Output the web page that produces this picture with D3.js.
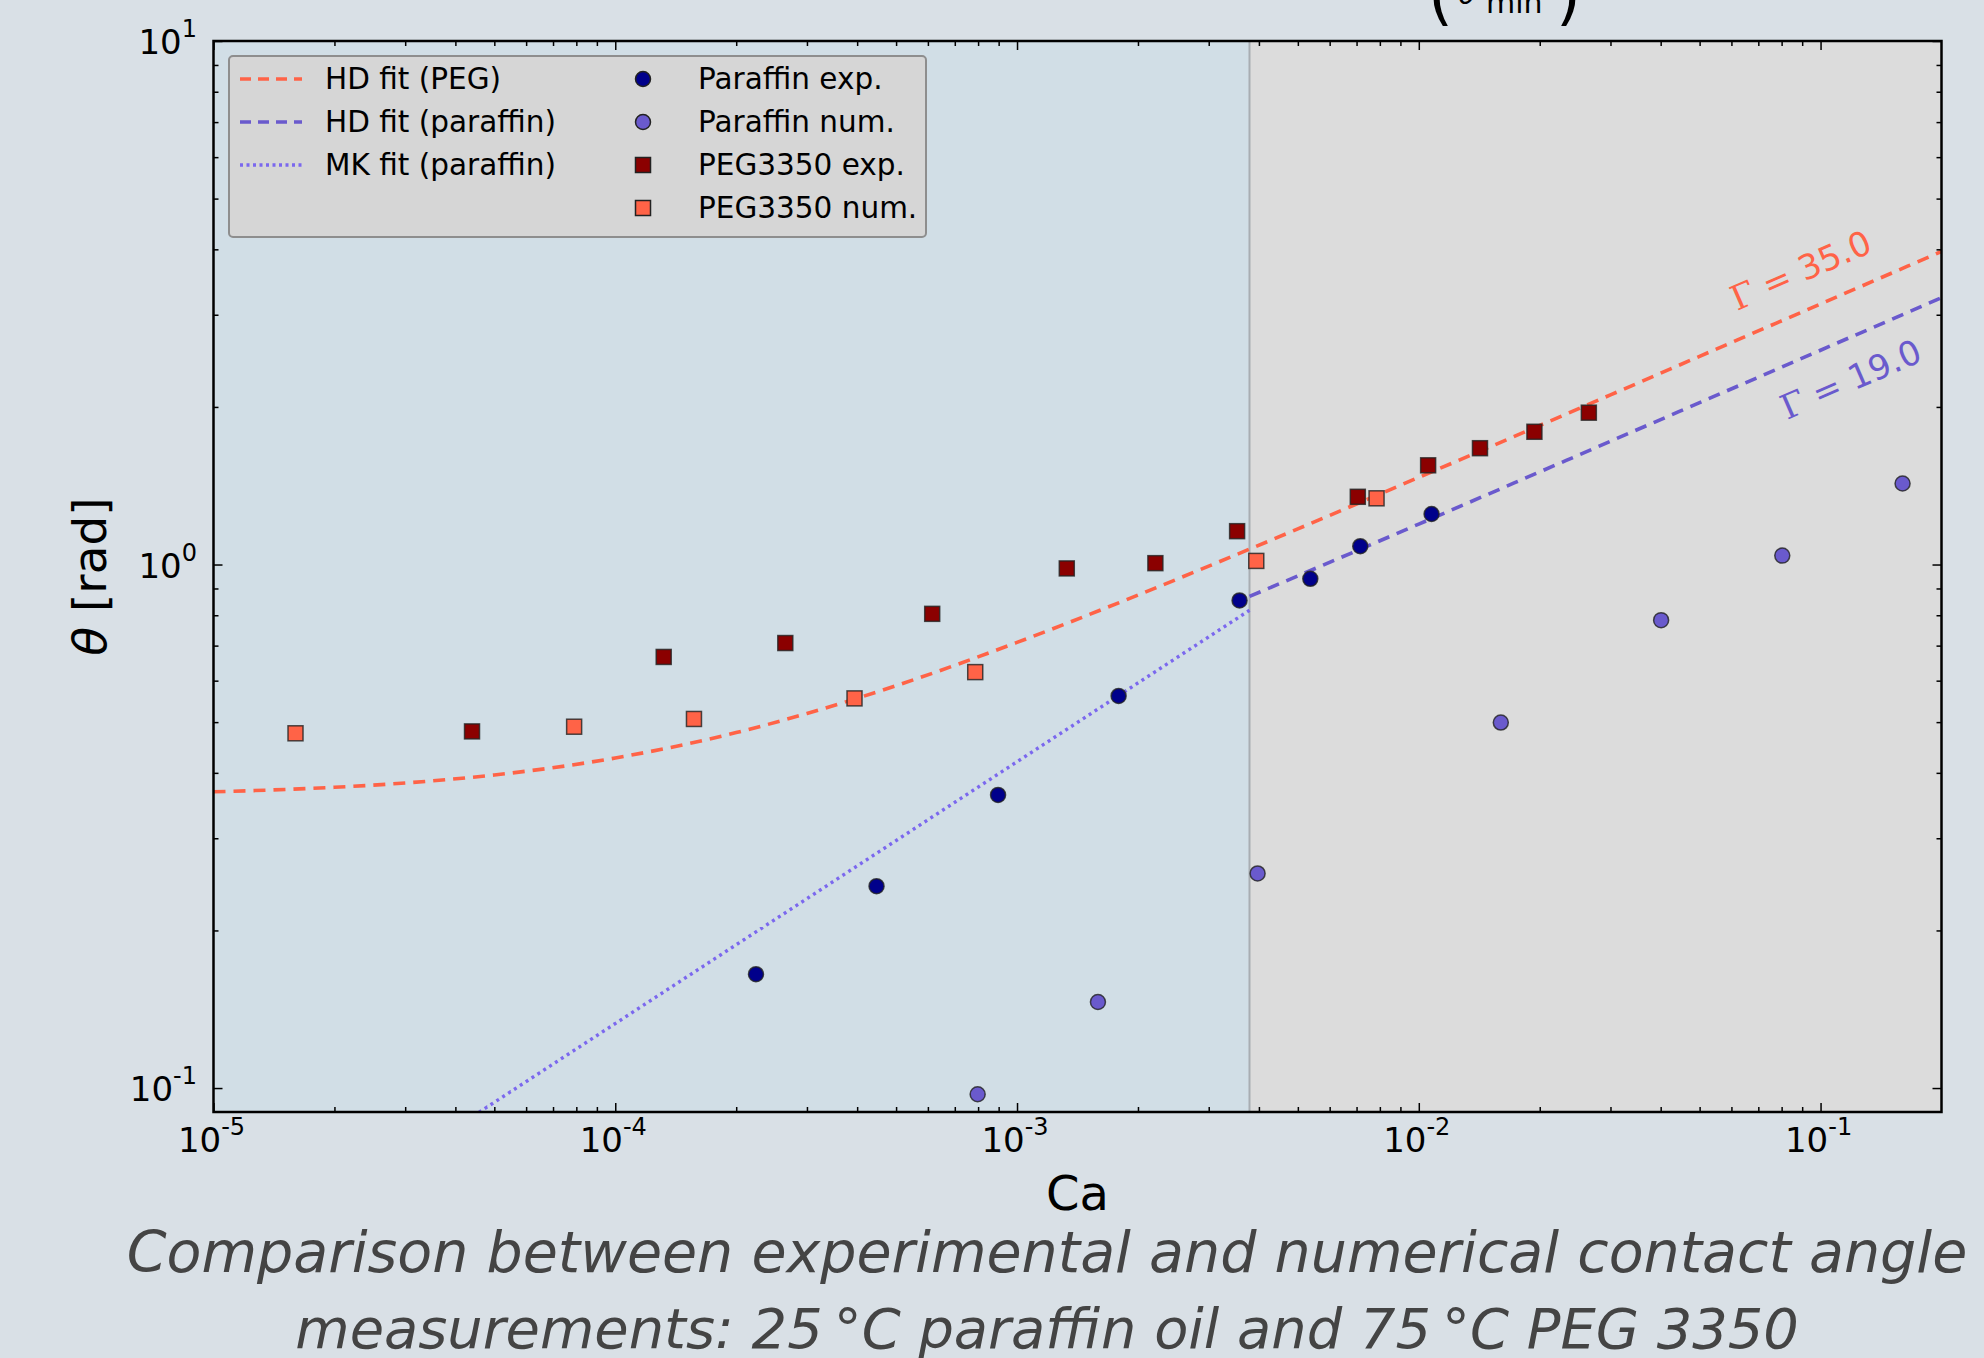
<!DOCTYPE html>
<html>
<head>
<meta charset="utf-8">
<script src="https://cdn.jsdelivr.net/npm/d3@7"></script>
<style>
  body { margin: 0; background: #d9e0e6; }
  svg { display: block; }
  text { font-family: "DejaVu Sans", sans-serif; }
</style>
</head>
<body>
<svg id="chart" width="1984" height="1358"></svg>
<script>
"use strict";

// tick labels
const X_MAJOR = [1e-5, 1e-4, 1e-3, 1e-2, 1e-1];
const X_EXP = ["-5", "-4", "-3", "-2", "-1"];
const Y_MAJOR = [1e-1, 1e0, 1e1];
const Y_EXP = ["-1", "0", "1"];

// measured points (Ca, theta)
const PARAFFIN_EXP_CA = [2.24e-4, 4.47e-4, 8.97e-4, 1.79e-3, 3.58e-3, 5.37e-3, 7.15e-3, 1.076e-2];
const PARAFFIN_EXP_TH = [0.165, 0.243, 0.363, 0.561, 0.854, 0.939, 1.084, 1.249];

const PARAFFIN_NUM_CA = [7.98e-4, 1.59e-3, 3.97e-3, 1.6e-2, 4.01e-2, 8.03e-2, 0.16];
const PARAFFIN_NUM_TH = [0.0973, 0.146, 0.257, 0.499, 0.783, 1.04, 1.428];

const PEG_EXP_CA = [4.4e-5, 1.32e-4, 2.65e-4, 6.15e-4, 1.33e-3, 2.21e-3, 3.53e-3, 7.05e-3, 1.055e-2, 1.42e-2, 1.94e-2, 2.65e-2];
const PEG_EXP_TH = [0.48, 0.666, 0.708, 0.805, 0.983, 1.006, 1.158, 1.347, 1.547, 1.668, 1.793, 1.95];

const PEG_NUM_CA = [1.6e-5, 7.9e-5, 1.57e-4, 3.94e-4, 7.87e-4, 3.94e-3, 7.85e-3];
const PEG_NUM_TH = [0.476, 0.49, 0.507, 0.555, 0.623, 1.016, 1.338];

// fit curves
const HD_PEG_CA = [1e-5, 2e-5, 3e-5, 5e-5, 1e-4, 2e-4, 3e-4, 5e-4, 1e-3, 2e-3, 3e-3, 5e-3, 1e-2, 2e-2, 3e-2, 5e-2, 1e-1, 2e-1];
const HD_PEG_TH = [0.368, 0.3754, 0.3826, 0.3963, 0.427, 0.4775, 0.5193, 0.5869, 0.7099, 0.8743, 0.9931, 1.1697, 1.467, 1.8434, 2.1085, 2.4986, 3.1459, 3.9628];

const HD_PAR_CA = [3.79e-3, 5e-3, 1e-2, 2e-2, 5e-2, 1e-1, 2e-1];
const HD_PAR_TH = [0.869, 0.9512, 1.1946, 1.503, 2.0377, 2.5664, 3.233];

const MK_PAR_CA = [4e-5, 1e-4, 1e-3, 3.79e-3];
const MK_PAR_TH = [0.084, 0.1328, 0.42, 0.8177];

const SPLIT_CA = 3.79e-3;

const CAPTION = [
  "Comparison between experimental and numerical contact angle",
  "measurements: 25\u2009°C paraffin oil and 75\u2009°C PEG 3350"
];
const CAPTION_WIDTH = [1841, 1504];

const LEGEND_LINES = [
  { label: "HD fit (PEG)", color: "#ff6347", dash: "11,7" },
  { label: "HD fit (paraffin)", color: "#6a5acd", dash: "11,7" },
  { label: "MK fit (paraffin)", color: "#7b68ee", dash: "3,3.5" }
];
const LEGEND_MARKS = [
  { label: "Paraffin exp.", color: "#00008b", shape: "circle" },
  { label: "Paraffin num.", color: "#6a5acd", shape: "circle" },
  { label: "PEG3350 exp.", color: "#8b0000", shape: "square" },
  { label: "PEG3350 num.", color: "#ff6347", shape: "square" }
];

const LEFT = 213.5, RIGHT = 1941.5, TOP = 41, BOTTOM = 1112;

const svg = d3.select("#chart");

const x = d3.scaleLog().domain([1e-5, 0.2]).range([LEFT, RIGHT]);
const y = d3.scaleLog().domain([0.09, 10]).range([BOTTOM, TOP]);

const zip = (a, b) => a.map((v, i) => [v, b[i]]);

// cut-off title above the plot
const title = svg.append("g").attr("fill", "#000");
title.append("text").attr("x", 1428).attr("y", 18).attr("font-size", 64).text("(");
title.append("text").attr("x", 1458).attr("y", 4).attr("font-size", 30)
  .attr("font-style", "italic").text("θ");
title.append("text").attr("x", 1486).attr("y", 13).attr("font-size", 30).text("min");
title.append("text").attr("x", 1556).attr("y", 18).attr("font-size", 64).text(")");

// plot background regions
svg.append("defs").append("clipPath").attr("id", "plotClip")
  .append("rect").attr("x", LEFT).attr("y", TOP)
  .attr("width", RIGHT - LEFT).attr("height", BOTTOM - TOP);

const plot = svg.append("g").attr("clip-path", "url(#plotClip)");

plot.append("rect")
  .attr("x", LEFT).attr("y", TOP)
  .attr("width", x(SPLIT_CA) - LEFT).attr("height", BOTTOM - TOP)
  .attr("fill", "#d1dee6");
plot.append("rect")
  .attr("x", x(SPLIT_CA)).attr("y", TOP)
  .attr("width", RIGHT - x(SPLIT_CA)).attr("height", BOTTOM - TOP)
  .attr("fill", "#dcdcdc");
plot.append("line")
  .attr("x1", x(SPLIT_CA)).attr("x2", x(SPLIT_CA))
  .attr("y1", TOP).attr("y2", BOTTOM)
  .attr("stroke", "#a8adb2").attr("stroke-width", 2);

// fit lines
const line = d3.line().x((d) => x(d[0])).y((d) => y(d[1])).curve(d3.curveMonotoneX);

plot.append("path").datum(zip(HD_PEG_CA, HD_PEG_TH))
  .attr("d", line).attr("fill", "none")
  .attr("stroke", "#ff6347").attr("stroke-width", 3.6).attr("stroke-dasharray", "12,8");
plot.append("path").datum(zip(HD_PAR_CA, HD_PAR_TH))
  .attr("d", line).attr("fill", "none")
  .attr("stroke", "#6a5acd").attr("stroke-width", 3.6).attr("stroke-dasharray", "12,8");
plot.append("path").datum(zip(MK_PAR_CA, MK_PAR_TH))
  .attr("d", line).attr("fill", "none")
  .attr("stroke", "#7b68ee").attr("stroke-width", 3.4).attr("stroke-dasharray", "3,4");

// markers
function drawMarkers(ca, th, color, shape) {
  const g = plot.append("g");
  const pts = zip(ca, th);
  if (shape === "circle") {
    g.selectAll("circle").data(pts).enter().append("circle")
      .attr("cx", (d) => x(d[0])).attr("cy", (d) => y(d[1])).attr("r", 7.5)
      .attr("fill", color).attr("stroke", "#222").attr("stroke-opacity", 0.8).attr("stroke-width", 1.5);
  } else {
    g.selectAll("rect").data(pts).enter().append("rect")
      .attr("x", (d) => x(d[0]) - 7.5).attr("y", (d) => y(d[1]) - 7.5)
      .attr("width", 15).attr("height", 15)
      .attr("fill", color).attr("stroke", "#222").attr("stroke-opacity", 0.8).attr("stroke-width", 1.5);
  }
}
drawMarkers(PEG_EXP_CA, PEG_EXP_TH, "#8b0000", "square");
drawMarkers(PEG_NUM_CA, PEG_NUM_TH, "#ff6347", "square");
drawMarkers(PARAFFIN_EXP_CA, PARAFFIN_EXP_TH, "#00008b", "circle");
drawMarkers(PARAFFIN_NUM_CA, PARAFFIN_NUM_TH, "#6a5acd", "circle");

// Gamma annotations
function gammaLabel(px, py, value, color) {
  const t = svg.append("text")
    .attr("transform", `translate(${px},${py}) rotate(-23.5)`)
    .attr("font-size", 34).attr("fill", color);
  t.append("tspan").attr("font-family", "DejaVu Serif, serif").text("Γ");
  t.append("tspan").text(" = " + value);
}
gammaLabel(1737, 311, "35.0", "#ff6347");
gammaLabel(1787, 420, "19.0", "#6a5acd");

// ticks (inward, all four sides)
const xMinor = [];
for (let k = -5; k <= -1; k++) for (let m = 2; m <= 9; m++) {
  const v = m * Math.pow(10, k);
  if (v < 0.2) xMinor.push(v);
}
const yMinor = [];
for (let k = -2; k <= 0; k++) for (let m = 2; m <= 9; m++) {
  const v = m * Math.pow(10, k);
  if (v > 0.09 && v < 10) yMinor.push(v);
}

function addAxis(axis, tx, ty) {
  const g = svg.append("g").attr("transform", `translate(${tx},${ty})`).call(axis);
  g.select(".domain").remove();
  g.selectAll("line").attr("stroke", "#000").attr("stroke-width", 1.5);
  g.selectAll("text").remove();
}
addAxis(d3.axisBottom(x).tickValues(X_MAJOR).tickSize(-9).tickFormat(""), 0, BOTTOM);
addAxis(d3.axisBottom(x).tickValues(xMinor).tickSize(-5).tickFormat(""), 0, BOTTOM);
addAxis(d3.axisTop(x).tickValues(X_MAJOR).tickSize(-9).tickFormat(""), 0, TOP);
addAxis(d3.axisTop(x).tickValues(xMinor).tickSize(-5).tickFormat(""), 0, TOP);
addAxis(d3.axisLeft(y).tickValues(Y_MAJOR).tickSize(-9).tickFormat(""), LEFT, 0);
addAxis(d3.axisLeft(y).tickValues(yMinor).tickSize(-5).tickFormat(""), LEFT, 0);
addAxis(d3.axisRight(y).tickValues(Y_MAJOR).tickSize(-9).tickFormat(""), RIGHT, 0);
addAxis(d3.axisRight(y).tickValues(yMinor).tickSize(-5).tickFormat(""), RIGHT, 0);

// frame
svg.append("rect")
  .attr("x", LEFT).attr("y", TOP)
  .attr("width", RIGHT - LEFT).attr("height", BOTTOM - TOP)
  .attr("fill", "none").attr("stroke", "#000").attr("stroke-width", 2.5);

// tick labels
X_MAJOR.forEach((v, i) => {
  const t = svg.append("text")
    .attr("x", x(v) - 2).attr("y", 1152).attr("text-anchor", "middle")
    .attr("font-size", 34).attr("fill", "#000");
  t.append("tspan").text("10");
  t.append("tspan").attr("dy", -17).attr("font-size", 24).text(X_EXP[i]);
});
Y_MAJOR.forEach((v, i) => {
  const t = svg.append("text")
    .attr("x", 197).attr("y", y(v) + 13).attr("text-anchor", "end")
    .attr("font-size", 34).attr("fill", "#000");
  t.append("tspan").text("10");
  t.append("tspan").attr("dy", -17).attr("font-size", 24).text(Y_EXP[i]);
});

// axis titles
svg.append("text")
  .attr("x", (LEFT + RIGHT) / 2).attr("y", 1210).attr("text-anchor", "middle")
  .attr("font-size", 48).attr("fill", "#000").text("Ca");

const yt = svg.append("text")
  .attr("transform", `translate(106,${(TOP + BOTTOM) / 2}) rotate(-90)`)
  .attr("text-anchor", "middle").attr("font-size", 47).attr("fill", "#000");
yt.append("tspan").attr("font-style", "italic").text("θ");
yt.append("tspan").text(" [rad]");

// legend
const legend = svg.append("g");
legend.append("rect")
  .attr("x", 229).attr("y", 56).attr("width", 697).attr("height", 181)
  .attr("rx", 4).attr("fill", "#d6d6d6").attr("stroke", "#8e8e8e").attr("stroke-width", 2);

const ROW_Y = [79, 122, 165, 208];
LEGEND_LINES.forEach((d, i) => {
  legend.append("line")
    .attr("x1", 240).attr("x2", 302).attr("y1", ROW_Y[i]).attr("y2", ROW_Y[i])
    .attr("stroke", d.color).attr("stroke-width", 3.4).attr("stroke-dasharray", d.dash);
  legend.append("text")
    .attr("x", 325).attr("y", ROW_Y[i]).attr("dy", "0.35em")
    .attr("font-size", 29.5).attr("fill", "#000").text(d.label);
});
LEGEND_MARKS.forEach((d, i) => {
  if (d.shape === "circle") {
    legend.append("circle").attr("cx", 643).attr("cy", ROW_Y[i]).attr("r", 7.5)
      .attr("fill", d.color).attr("stroke", "#222").attr("stroke-width", 1.5);
  } else {
    legend.append("rect").attr("x", 635.5).attr("y", ROW_Y[i] - 7.5)
      .attr("width", 15).attr("height", 15)
      .attr("fill", d.color).attr("stroke", "#222").attr("stroke-width", 1.5);
  }
  legend.append("text")
    .attr("x", 698).attr("y", ROW_Y[i]).attr("dy", "0.35em")
    .attr("font-size", 29.5).attr("fill", "#000").text(d.label);
});

// caption, each line sized to its measured width in the reference
const CAP_FONT = "'Open Sans', 'Noto Sans', sans-serif";
CAPTION.forEach((s, i) => {
  const c = svg.append("text")
    .attr("x", 1047).attr("y", i === 0 ? 1272 : 1348)
    .attr("text-anchor", "middle")
    .attr("font-family", CAP_FONT).attr("font-style", "italic")
    .attr("font-size", 62).attr("fill", "#444").text(s);
  const w = c.node().getComputedTextLength();
  c.attr("font-size", 62 * CAPTION_WIDTH[i] / w);
});
</script>
</body>
</html>
